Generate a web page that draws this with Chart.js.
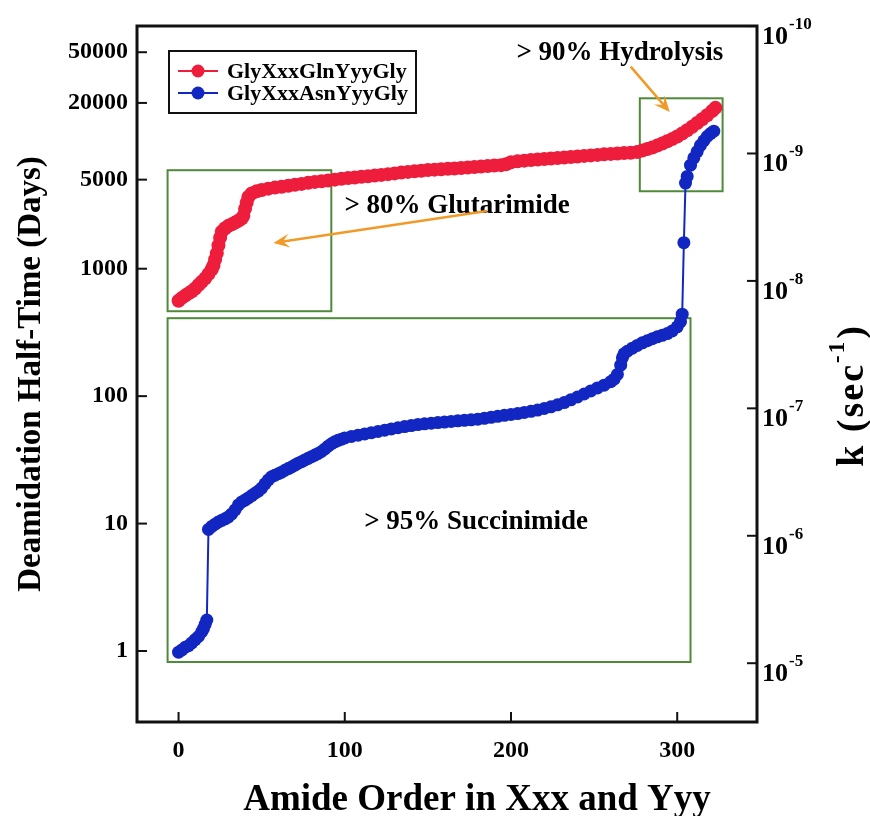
<!DOCTYPE html>
<html><head><meta charset="utf-8">
<script src="https://cdn.jsdelivr.net/npm/chart.js@4.4.1/dist/chart.umd.min.js"></script>
<style>html,body{margin:0;padding:0;background:#fff;}#wrap{position:relative;width:870px;height:816px;}</style>
</head><body><div id="wrap"><canvas id="c" width="870" height="816"></canvas></div>
<script>
// ---------------- data ----------------
const seriesNames = ['GlyXxxGlnYyyGly', 'GlyXxxAsnYyyGly'];
const glnOrder = [0,2,4,6,8,10,12,14,16,18,20,21,22,23,24,25,26,28,30,32,34,36,38,39,40,41,42,44,47,50,54,58,62,66,70,74,78,82,86,90,94,98,102,106,110,114,118,122,126,130,134,138,142,146,150,154,158,162,166,170,174,178,182,186,190,194,197,200,204,208,212,216,220,224,228,232,236,240,244,248,252,256,260,264,268,272,276,279,282,285,288,291,294,297,300,303,306,309,312,315,318,321,323];
const glnHalfTime = [560,590,615,640,665,700,745,790,840,910,990,1060,1180,1320,1520,1750,1950,2080,2170,2230,2300,2380,2480,2600,2950,3300,3650,3900,4050,4150,4250,4330,4400,4470,4550,4630,4720,4800,4860,4920,5000,5080,5140,5200,5260,5320,5380,5450,5520,5600,5680,5750,5820,5880,5940,5990,6040,6080,6120,6170,6220,6280,6340,6400,6450,6500,6600,6850,6980,7050,7120,7200,7260,7320,7380,7450,7520,7600,7680,7750,7820,7900,7960,8020,8080,8140,8250,8450,8700,8950,9250,9600,10000,10400,10900,11500,12200,13000,13900,14900,16000,17300,18300];
const asnOrder = [0,2,4,6,8,10,12,14,15,16,17,18,20,22,24,26,28,30,32,34,36,38,40,42,44,46,48,50,52,54,56,58,60,62,64,66,68,70,72,74,76,78,80,82,84,86,88,90,92,94,96,98,100,104,108,112,116,120,124,128,132,136,140,144,148,152,156,160,164,168,172,176,180,184,188,192,196,200,204,208,212,216,220,224,228,232,236,240,244,248,252,256,260,262,264,266,267,268,270,273,276,279,282,285,288,291,294,297,300,302,303,304,305,306,308,310,312,314,316,318,320,322];
const asnHalfTime = [0.98,1.02,1.07,1.1,1.16,1.23,1.3,1.42,1.5,1.62,1.75,9.0,9.5,9.9,10.3,10.6,10.9,11.3,11.9,12.8,14.0,14.8,15.3,15.9,16.6,17.3,18.0,19.0,20.5,22.0,23.3,24.0,24.6,25.3,26.2,27.0,27.8,28.8,29.8,30.6,31.6,32.5,33.5,34.5,35.5,36.8,38.5,40.5,42.3,43.8,45.0,46.0,47.0,48.3,49.4,50.5,51.7,52.8,54.0,55.3,56.5,57.7,58.8,59.8,60.6,61.3,62.0,62.6,63.3,64.0,64.6,65.2,66.0,67.0,68.2,69.5,70.7,71.8,73.0,74.5,76.0,77.8,80.0,82.5,85.5,89.0,93.5,98.5,104,110,116,122,130,136,148,175,200,215,225,238,250,262,272,282,292,300,310,325,350,385,440,1600,4700,5300,6500,7400,8300,9300,10100,10900,11500,12000];
const xTicks = [0, 100, 200, 300];
const halfTimeTicks = [1, 10, 100, 1000, 5000, 20000, 50000];
const rateTicks = [1e-10, 1e-9, 1e-8, 1e-7, 1e-6, 1e-5];
const annotationTexts = ['> 80% Glutarimide', '> 90% Hydrolysis', '> 95% Succinimide'];
const xTitle = 'Amide Order in Xxx and Yyy';
const yTitle = 'Deamidation Half-Time (Days)';

// ---------------- layout / style ----------------
const FONT = '"Liberation Serif", "Times New Roman", serif';
const RED = '#ee1d3c', BLUE = '#1226c2', GREEN = '#4f8a3a', ORANGE = '#f29a28', INK = '#111';
const LN2_PER_DAY = Math.LN2 / 86400;
const halfMin = 0.2773, halfMax = 80300;
const area = {left: 137, top: 26, right: 757, bottom: 722};

// annotation placement (data coordinates)
const boxes = [
  {x0: -6.6, x1: 91.9, y0: 464, y1: 5930},
  {x0: -6.6, x1: 308, y0: 0.82, y1: 409},
  {x0: 277.5, x1: 327.3, y0: 4055, y1: 21750}
];
const labelPos = [{x: 167.6, y: 3105}, {x: 265.5, y: 49300}, {x: 179, y: 10.3}];
const arrows = [
  {x0: 185.6, y0: 2838, x1: 57.1, y1: 1592},
  {x0: 272, y0: 38500, x1: 295.5, y1: 16980}
];

function drawArrow(ctx, ax, ay, bx, by) {
  const ang = Math.atan2(by - ay, bx - ax);
  const L = 16, W = 7;
  ctx.save();
  ctx.strokeStyle = ORANGE; ctx.fillStyle = ORANGE; ctx.lineWidth = 2.5;
  ctx.beginPath(); ctx.moveTo(ax, ay); ctx.lineTo(bx - Math.cos(ang) * 8, by - Math.sin(ang) * 8); ctx.stroke();
  ctx.translate(bx, by); ctx.rotate(ang);
  ctx.beginPath(); ctx.moveTo(0, 0); ctx.lineTo(-L, -W); ctx.lineTo(-L * 0.6, 0); ctx.lineTo(-L, W); ctx.closePath(); ctx.fill();
  ctx.restore();
}

const decor = {
  id: 'decor',
  beforeDatasetsDraw(chart) {
    const {ctx, scales: {x, y}} = chart;
    ctx.save();
    ctx.strokeStyle = GREEN; ctx.lineWidth = 2;
    boxes.forEach(b => {
      const px0 = x.getPixelForValue(b.x0), px1 = x.getPixelForValue(b.x1);
      const py0 = y.getPixelForValue(b.y0), py1 = y.getPixelForValue(b.y1);
      ctx.strokeRect(px0, py1, px1 - px0, py0 - py1);
    });
    ctx.fillStyle = '#000'; ctx.font = 'bold 27px ' + FONT; ctx.textAlign = 'center'; ctx.textBaseline = 'middle';
    annotationTexts.forEach((t, i) => ctx.fillText(t, x.getPixelForValue(labelPos[i].x), y.getPixelForValue(labelPos[i].y)));
    arrows.forEach(a => drawArrow(ctx, x.getPixelForValue(a.x0), y.getPixelForValue(a.y0), x.getPixelForValue(a.x1), y.getPixelForValue(a.y1)));
    ctx.restore();
  },
  afterDatasetsDraw(chart) {
    const {ctx, chartArea: ca, scales} = chart;
    ctx.save();
    // ticks (inward)
    ctx.strokeStyle = INK; ctx.lineWidth = 2;
    scales.x.ticks.forEach(t => { const p = scales.x.getPixelForValue(t.value); ctx.beginPath(); ctx.moveTo(p, ca.bottom); ctx.lineTo(p, ca.bottom - 10); ctx.stroke(); });
    scales.y.ticks.forEach(t => { const p = scales.y.getPixelForValue(t.value); ctx.beginPath(); ctx.moveTo(ca.left, p); ctx.lineTo(ca.left + 10, p); ctx.stroke(); });
    scales.y2.ticks.forEach(t => { const p = scales.y2.getPixelForValue(t.value); ctx.beginPath(); ctx.moveTo(ca.right, p); ctx.lineTo(ca.right - 10, p); ctx.stroke(); });
    // right axis labels: 10 with superscript exponent
    ctx.fillStyle = '#000'; ctx.textAlign = 'left'; ctx.textBaseline = 'alphabetic';
    scales.y2.ticks.forEach(t => {
      const p = scales.y2.getPixelForValue(t.value);
      const e = String(Math.round(Math.log10(t.value)));
      ctx.font = 'bold 26px ' + FONT; ctx.fillText('10', ca.right + 5, p + 18);
      const w = ctx.measureText('10').width;
      ctx.font = 'bold 17px ' + FONT; ctx.fillText(e, ca.right + 6 + w, p + 3);
    });
    // frame
    ctx.lineWidth = 3;
    ctx.strokeRect(ca.left, ca.top, ca.right - ca.left, ca.bottom - ca.top);
    // legend
    const lx = ca.left + 32, ly = ca.top + 25, lw = 247, lh = 62;
    ctx.fillStyle = '#fff'; ctx.fillRect(lx, ly, lw, lh);
    ctx.lineWidth = 2; ctx.strokeStyle = INK; ctx.strokeRect(lx, ly, lw, lh);
    chart.data.datasets.forEach((ds, i) => {
      const cy = ly + 20 + i * 22;
      ctx.strokeStyle = ds.borderColor; ctx.lineWidth = 2;
      ctx.beginPath(); ctx.moveTo(lx + 9, cy); ctx.lineTo(lx + 49, cy); ctx.stroke();
      ctx.fillStyle = ds.borderColor; ctx.beginPath(); ctx.arc(lx + 29, cy, 6.5, 0, Math.PI * 2); ctx.fill();
      ctx.fillStyle = '#000'; ctx.font = 'bold 22px ' + FONT; ctx.textAlign = 'left'; ctx.textBaseline = 'middle';
      ctx.fillText(ds.label, lx + 58, cy + 1);
    });
    // x title (offset to the right as in the original)
    ctx.fillStyle = '#000'; ctx.font = 'bold 37px ' + FONT; ctx.textAlign = 'center'; ctx.textBaseline = 'alphabetic';
    ctx.fillText(xTitle, 477, 810);
    // right title k (sec^-1)
    ctx.save();
    ctx.translate(851, 396); ctx.rotate(-Math.PI / 2);
    ctx.fillStyle = '#000'; ctx.textBaseline = 'alphabetic'; ctx.textAlign = 'left';
    ctx.letterSpacing = '2px';
    const big = 'bold 38px ' + FONT, small = 'bold 23px ' + FONT;
    ctx.font = big; const w1 = ctx.measureText('k (sec').width, w3 = ctx.measureText(')').width;
    ctx.font = small; const w2 = ctx.measureText('-1').width;
    let sx = -(w1 + w2 + w3) / 2;
    ctx.font = big; ctx.fillText('k (sec', sx, 12);
    ctx.font = small; ctx.fillText('-1', sx + w1, -7);
    ctx.font = big; ctx.fillText(')', sx + w1 + w2 + 1, 12);
    ctx.restore();
    ctx.restore();
  }
};

new Chart(document.getElementById('c'), {
  type: 'line',
  data: {
    datasets: [
      {label: seriesNames[0], data: glnOrder.map((v, i) => ({x: v, y: glnHalfTime[i]})), borderColor: RED, backgroundColor: RED,
       pointBackgroundColor: RED, pointRadius: 7, pointBorderWidth: 0, borderWidth: 2, yAxisID: 'y'},
      {label: seriesNames[1], data: asnOrder.map((v, i) => ({x: v, y: asnHalfTime[i]})), borderColor: BLUE, backgroundColor: BLUE,
       pointBackgroundColor: BLUE, pointRadius: 6.5, pointBorderWidth: 0, borderWidth: 2, yAxisID: 'y'}
    ]
  },
  options: {
    responsive: false, animation: false, devicePixelRatio: 1,
    layout: {padding: {top: area.top, left: 0, right: 0, bottom: 0}},
    plugins: {legend: {display: false}, tooltip: {enabled: false}},
    scales: {
      x: {
        type: 'linear', min: -25, max: 348,
        afterBuildTicks: s => { s.ticks = xTicks.map(v => ({value: v})); },
        afterFit: s => { s.height = 816 - area.bottom; },
        grid: {display: false, drawTicks: false}, border: {display: false},
        ticks: {font: {family: FONT, size: 24, weight: 'bold'}, color: '#000', padding: 14, maxRotation: 0},
        title: {display: false, text: xTitle}
      },
      y: {
        type: 'logarithmic', position: 'left', min: halfMin, max: halfMax,
        afterBuildTicks: s => { s.ticks = halfTimeTicks.map(v => ({value: v})); },
        afterFit: s => { s.width = area.left; },
        grid: {display: false, drawTicks: false}, border: {display: false},
        ticks: {font: {family: FONT, size: 24, weight: 'bold'}, color: '#000', padding: 9, callback: v => String(v)},
        title: {display: true, text: yTitle, font: {family: FONT, size: 33, weight: 'bold'}, color: '#000', padding: {top: 12, bottom: 0}}
      },
      y2: {
        type: 'logarithmic', position: 'right', reverse: true,
        min: LN2_PER_DAY / halfMax, max: LN2_PER_DAY / halfMin,
        afterBuildTicks: s => { s.ticks = rateTicks.map(v => ({value: v})); },
        afterFit: s => { s.width = 870 - area.right; },
        grid: {display: false, drawTicks: false}, border: {display: false},
        ticks: {display: false}
      }
    }
  },
  plugins: [decor]
});
</script></body></html>
